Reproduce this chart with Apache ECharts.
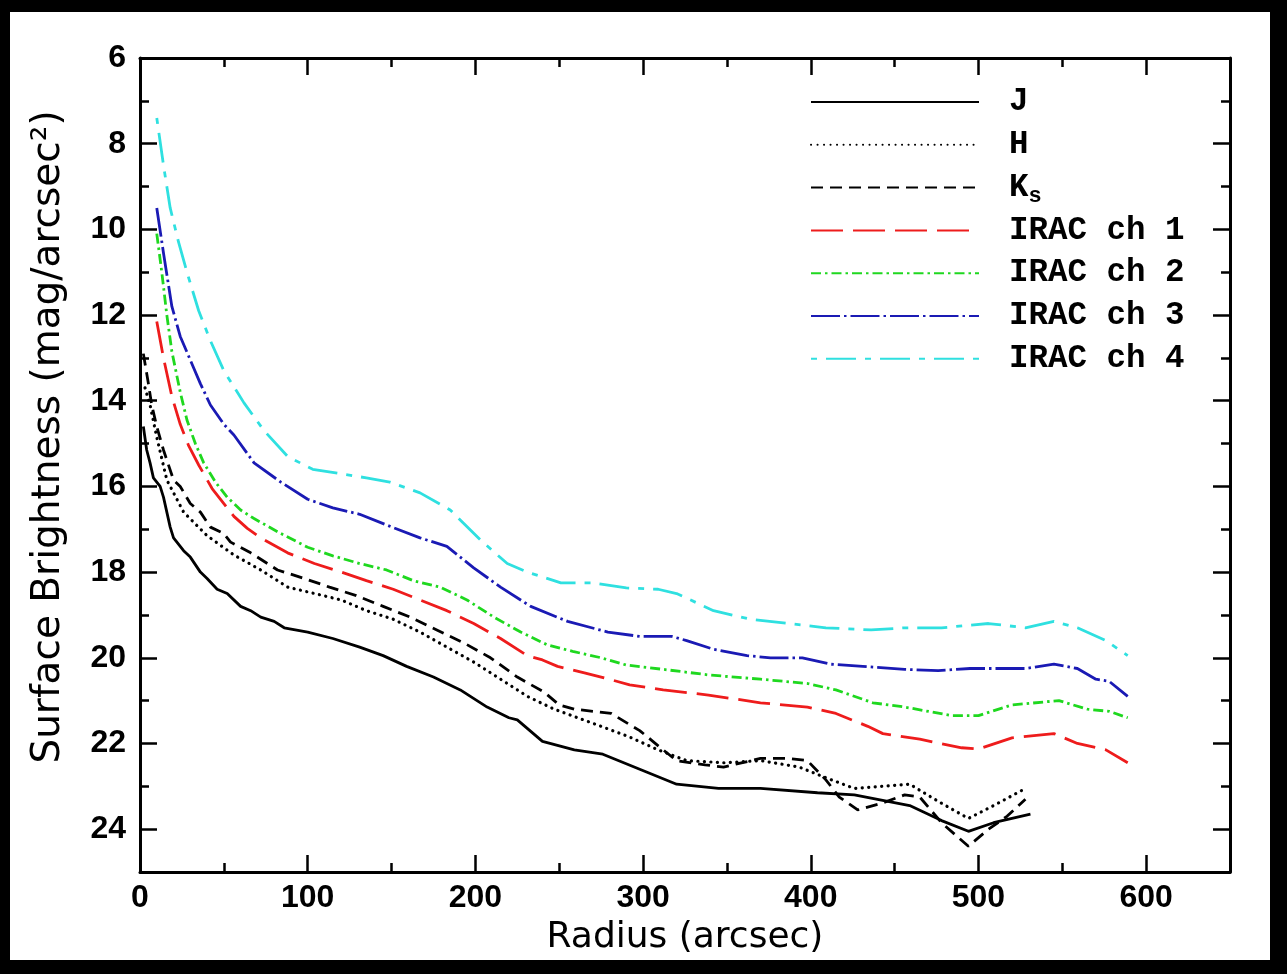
<!DOCTYPE html>
<html>
<head>
<meta charset="utf-8">
<script src="https://cdn.jsdelivr.net/npm/echarts@6/dist/echarts.min.js"></script>
<style>
  html, body { margin: 0; padding: 0; background: #000; }
  #paper { position: absolute; left: 10px; top: 12px; width: 1260px; height: 948px; background: #fff; }
  #chart { position: absolute; left: 0; top: 0; width: 1287px; height: 974px; }
</style>
</head>
<body>
<div id="paper"></div>
<div id="chart"></div>
<script>
// ---- data: [radius (arcsec), surface brightness (mag/arcsec^2)] ----
const seriesNames = ['J', 'H', 'Ks', 'IRAC ch 1', 'IRAC ch 2', 'IRAC ch 3', 'IRAC ch 4'];

const dataJ = [[2,14.6],[4,15.15],[6,15.45],[8,15.8],[12,16.0],[14,16.25],[18,16.95],[20,17.2],[26,17.5],[30,17.65],[36,18.0],[40,18.15],[46,18.4],[52,18.5],[60,18.8],[66,18.9],[72,19.05],[80,19.15],[86,19.3],[100,19.4],[115,19.55],[131,19.75],[145,19.95],[159,20.2],[175,20.45],[191,20.75],[207,21.15],[220,21.4],[225,21.45],[240,21.95],[259,22.15],[276,22.25],[298,22.6],[320,22.95],[345,23.05],[370,23.05],[404,23.15],[426,23.2],[459,23.45],[478,23.8],[494,24.05],[509,23.85],[531,23.65]];

const dataH = [[3,13.7],[6,14.1],[10,14.85],[16,15.85],[26,16.6],[40,17.15],[56,17.6],[72,17.95],[88,18.35],[104,18.5],[120,18.65],[135,18.9],[151,19.1],[167,19.4],[183,19.75],[199,20.1],[215,20.5],[231,20.9],[247,21.2],[261,21.4],[275,21.6],[292,21.85],[309,22.15],[326,22.4],[348,22.45],[370,22.4],[393,22.55],[409,22.8],[426,23.05],[442,23.0],[459,22.95],[476,23.35],[494,23.75],[509,23.45],[528,23.05]];

const dataKs = [[2,12.9],[5,13.6],[7,14.1],[10,14.6],[14,15.15],[20,15.85],[24,16.0],[30,16.4],[36,16.6],[42,16.95],[50,17.1],[54,17.3],[66,17.55],[82,17.95],[98,18.15],[113,18.35],[129,18.55],[145,18.8],[161,19.05],[177,19.35],[193,19.65],[209,20.0],[225,20.45],[241,20.8],[250,21.1],[259,21.2],[281,21.3],[298,21.7],[312,22.15],[320,22.4],[337,22.5],[348,22.55],[370,22.35],[387,22.35],[398,22.4],[409,22.85],[417,23.25],[428,23.55],[442,23.4],[456,23.2],[465,23.25],[478,23.85],[494,24.4],[506,24.0],[517,23.7],[528,23.3]];

const dataCh1 = [[10,12.15],[14,13.0],[19,13.9],[24,14.55],[29,15.05],[35,15.5],[43,16.05],[50,16.4],[56,16.7],[64,16.98],[72,17.2],[88,17.55],[104,17.8],[120,18.0],[135,18.2],[151,18.4],[167,18.65],[183,18.9],[199,19.2],[215,19.55],[231,19.95],[240,20.05],[249,20.2],[265,20.35],[275,20.45],[292,20.63],[312,20.75],[339,20.87],[370,21.05],[398,21.15],[415,21.3],[434,21.6],[443,21.77],[465,21.9],[490,22.1],[500,22.13],[520,21.87],[545,21.77],[559,22.0],[576,22.15],[589,22.45]];

const dataCh2 = [[10,10.1],[13,11.0],[16,12.0],[19,12.85],[24,13.8],[28,14.45],[33,15.0],[38,15.45],[45,15.9],[52,16.25],[60,16.55],[68,16.75],[84,17.1],[100,17.42],[115,17.62],[131,17.8],[147,17.95],[163,18.2],[179,18.35],[195,18.65],[211,19.05],[227,19.4],[243,19.7],[258,19.85],[275,20.0],[290,20.17],[312,20.27],[339,20.4],[370,20.5],[398,20.6],[415,20.75],[437,21.05],[456,21.15],[484,21.35],[500,21.35],[520,21.1],[548,21.0],[565,21.2],[578,21.25],[589,21.4]];

const dataCh3 = [[10,9.5],[14,10.55],[19,11.8],[24,12.5],[30,13.05],[36,13.6],[42,14.1],[50,14.55],[56,14.8],[68,15.45],[84,15.9],[100,16.3],[115,16.5],[131,16.65],[147,16.9],[167,17.2],[183,17.4],[199,17.9],[215,18.35],[233,18.8],[255,19.15],[279,19.4],[298,19.5],[317,19.5],[326,19.6],[342,19.8],[362,19.95],[376,20.0],[395,20.0],[412,20.15],[431,20.2],[456,20.27],[476,20.3],[495,20.25],[528,20.25],[545,20.15],[559,20.25],[570,20.5],[578,20.55],[589,20.9]];

const dataCh4 = [[10,7.4],[14,8.5],[18,9.5],[23,10.3],[28,11.0],[35,11.9],[42,12.6],[50,13.3],[62,14.05],[74,14.7],[88,15.3],[103,15.6],[119,15.7],[135,15.8],[149,15.9],[167,16.15],[185,16.55],[203,17.25],[219,17.8],[231,18.0],[251,18.25],[270,18.25],[290,18.37],[309,18.4],[320,18.5],[342,18.9],[364,19.1],[387,19.2],[409,19.3],[436,19.35],[456,19.3],[478,19.3],[506,19.2],[528,19.3],[545,19.15],[559,19.3],[576,19.6],[589,19.95]];

const xTickValues = [0, 100, 200, 300, 400, 500, 600];
const yTickValues = [6, 8, 10, 12, 14, 16, 18, 20, 22, 24];

// ---- styles ----
const seriesData = [dataJ, dataH, dataKs, dataCh1, dataCh2, dataCh3, dataCh4];
const seriesStyles = [
  { color: '#000000', width: 2.8, type: 'solid', cap: 'butt' },
  { color: '#000000', width: 3.2, type: [0.1, 6.4], cap: 'round' },
  { color: '#000000', width: 2.8, type: [12, 7], cap: 'butt' },
  { color: '#ee1c1c', width: 2.8, type: [32, 10], cap: 'butt' },
  { color: '#1fd81f', width: 2.8, type: [10, 4, 2.5, 4], cap: 'butt' },
  { color: '#1a1ab4', width: 2.8, type: [29, 4, 2.5, 4], cap: 'butt' },
  { color: '#2fe0e0', width: 2.8, type: [6, 9, 30, 9], cap: 'butt' }
];

const tickFont = 'Liberation Sans';
const titleFont = 'DejaVu Sans';
const axisColor = '#000';

function makeAxis(extra) {
  return Object.assign({
    type: 'value',
    splitLine: { show: false },
    axisLine: { show: true, onZero: false, lineStyle: { color: axisColor, width: 3 } },
    axisTick: { show: true, inside: true, length: 17, lineStyle: { color: axisColor, width: 2.5 } },
    minorTick: { show: true, splitNumber: 2, length: 9, lineStyle: { color: axisColor, width: 2.5 } },
    minorSplitLine: { show: false }
  }, extra);
}

const option = {
  backgroundColor: 'transparent',
  animation: false,
  grid: { left: 140, right: 57, top: 58, bottom: 102, containLabel: false },
  xAxis: [
    makeAxis({
      position: 'bottom', min: 0, max: 650, interval: 100,
      axisLabel: {
        show: true, margin: 10, color: '#000', fontFamily: tickFont, fontWeight: 'bold', fontSize: 32,
        showMaxLabel: false,
        formatter: v => (xTickValues.indexOf(v) >= 0 ? String(v) : '')
      },
      name: 'Radius (arcsec)', nameLocation: 'middle', nameGap: 48,
      nameTextStyle: { color: '#000', fontFamily: titleFont, fontSize: 36 }
    }),
    makeAxis({ position: 'top', min: 0, max: 650, interval: 100, axisLabel: { show: false } })
  ],
  yAxis: [
    makeAxis({
      position: 'left', inverse: true, min: 6, max: 25, interval: 2,
      axisLabel: {
        show: true, margin: 14, color: '#000', fontFamily: tickFont, fontWeight: 'bold', fontSize: 32,
        showMaxLabel: false,
        formatter: v => (yTickValues.indexOf(v) >= 0 ? String(v) : '')
      },
      name: 'Surface Brightness (mag/arcsec²)', nameLocation: 'middle', nameGap: 72, nameRotate: 90,
      nameTextStyle: { color: '#000', fontFamily: titleFont, fontSize: 39, padding: [0, 0, 0, 56] }
    }),
    makeAxis({ position: 'right', inverse: true, min: 6, max: 25, interval: 2, axisLabel: { show: false } })
  ],
  legend: {
    orient: 'vertical', left: 810, top: 82, padding: 0,
    itemWidth: 168, itemHeight: 20, itemGap: 2.8,
    selectedMode: false,
    data: seriesNames,
    itemStyle: { opacity: 0, borderWidth: 0 },
    formatter: name => (name === 'Ks' ? 'K{sub|s}' : name),
    textStyle: {
      color: '#000', fontFamily: 'Liberation Mono', fontWeight: 'bold', fontSize: 32.5,
      lineHeight: 40, padding: [0, 0, 0, 25],
      rich: {
        sub: { color: '#000', fontFamily: 'Liberation Mono', fontWeight: 'bold', fontSize: 22,
               lineHeight: 16, verticalAlign: 'bottom' }
      }
    }
  },
  series: seriesNames.map((name, i) => ({
    name: name,
    type: 'line',
    xAxisIndex: 0, yAxisIndex: 0,
    data: seriesData[i],
    symbol: 'none', showSymbol: false, smooth: false,
    lineStyle: seriesStyles[i],
    itemStyle: { color: seriesStyles[i].color },
    emphasis: { disabled: true },
    z: 10 - i
  }))
};

const chart = echarts.init(document.getElementById('chart'), null, { renderer: 'canvas' });
chart.setOption(option);
</script>
</body>
</html>
